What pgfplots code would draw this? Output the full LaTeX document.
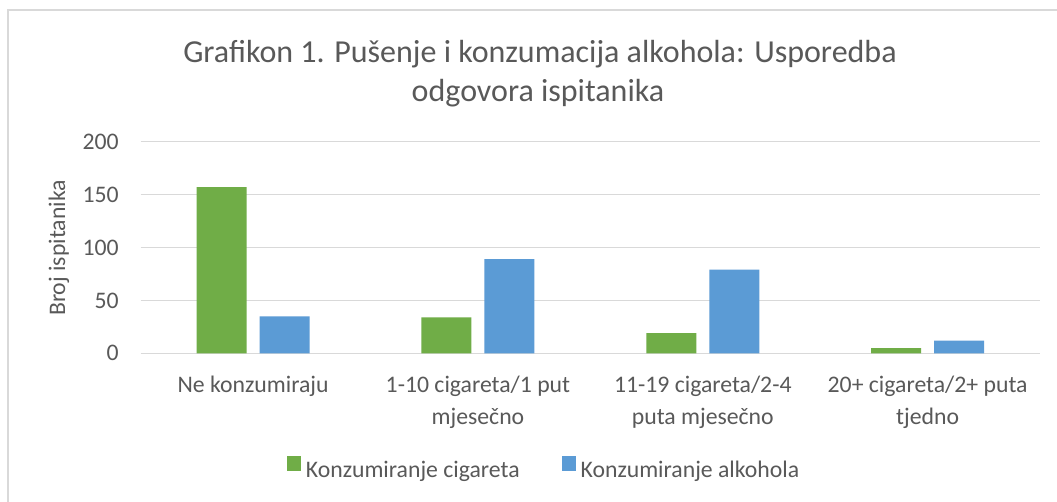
\documentclass[border=0pt]{standalone}
\usepackage{fontspec}
\setmainfont{Carlito}
\usepackage{pgfplots}
\pgfplotsset{compat=1.18}
\definecolor{cgreen}{HTML}{70AD47}
\definecolor{cblue}{HTML}{5B9BD5}
\definecolor{ctext}{HTML}{595959}
\definecolor{cgrid}{HTML}{D9D9D9}
\begin{document}
\begin{tikzpicture}[x=0.75pt,y=0.75pt]
\useasboundingbox (0,0) rectangle (1057,502);
\clip (0,0) rectangle (1057,502);
\fill[white] (0,0) rectangle (1057,502);
\draw[cgrid, line width=0.9pt] (8,-20) rectangle (1080,492);
\node[anchor=base, text=ctext, font=\fontsize{24}{29}\selectfont] at (540,439) {Grafikon 1. Pušenje i konzumacija alkohola: Usporedba};
\node[anchor=base, text=ctext, font=\fontsize{24}{29}\selectfont] at (538,400) {odgovora ispitanika};
\node[rotate=90, anchor=base, text=ctext, font=\fontsize{17.8}{22}\selectfont] at (65,254) {Broj ispitanika};
\begin{axis}[
  at={(105.525pt,111.525pt)}, anchor=south west,
  scale only axis, width=674.5pt, height=158.7pt,
  xmin=-0.5, xmax=3.5, ymin=0, ymax=200,
  ytick={0,50,100,150,200},
  xtick={0,1,2,3},
  xticklabels={{\strut Ne konzumiraju}, {\strut 1-10 cigareta/1 put\\mjesečno}, {\strut 11-19 cigareta/2-4\\puta mjesečno}, {\strut 20+ cigareta/2+ puta\\tjedno}},
  /pgf/number format/assume math mode=true,
  axis line style={draw=none},
  major tick length=0pt,
  ymajorgrids, grid style={cgrid, line width=0.9pt},
  tick label style={font=\fontsize{17.8}{24}\selectfont, text=ctext},
  yticklabel style={inner sep=0pt, xshift=-16.3pt},
  xticklabel style={align=center, anchor=north, inner sep=0pt, yshift=-12.2pt},
  ybar=9.75pt, bar width=37.5pt,
  legend columns=2,
  legend image code/.code={\fill[#1] (0pt,0pt) rectangle (10.5pt,11pt);},
  legend style={at={(0.4474,-0.542)}, anchor=center, draw=none, fill=none, inner sep=0pt,
    font=\fontsize{17.8}{22}\selectfont, text=ctext,
    nodes={inner sep=0pt}, column sep=3.75pt,
    /tikz/every even column/.append style={column sep=31.5pt}},
]
\addplot[fill=cgreen, draw=none] coordinates {(0,157) (1,34) (2,19) (3,5)};
\addplot[fill=cblue, draw=none] coordinates {(0,35) (1,89) (2,79) (3,12)};
\legend{Konzumiranje cigareta, Konzumiranje alkohola}
\end{axis}
\end{tikzpicture}
\end{document}
